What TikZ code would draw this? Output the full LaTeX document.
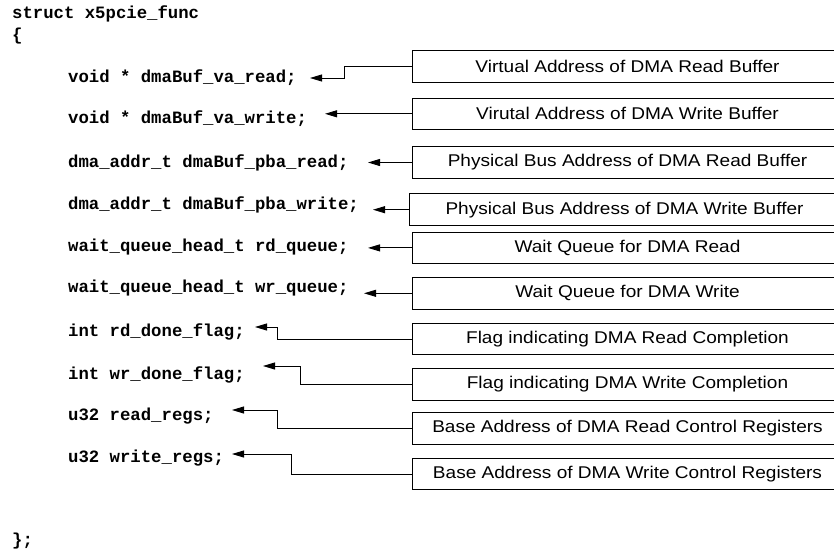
\documentclass[tikz,border=0pt]{standalone}
\usepackage{fontspec}
\setmainfont{Liberation Sans}
\newfontfamily\codefont{Liberation Mono}
\newfontfamily\boxfont[FakeStretch=1.12]{Liberation Sans}
\usetikzlibrary{arrows.meta}
\begin{document}
\begin{tikzpicture}[x=1pt,y=-1pt,
  code/.style={anchor=base west,inner sep=0pt,font=\codefont\bfseries\fontsize{17.3}{20}\selectfont},
  descbox/.style={draw=black,line width=1pt,minimum width=430pt,minimum height=31.5pt,inner sep=0pt,anchor=west,font=\boxfont\fontsize{17}{20}\selectfont},
  conn/.style={draw=black,line width=0.9pt,-{Triangle[length=12pt,width=7pt]}}]
\useasboundingbox[fill=white] (0,0) rectangle (834,552);
% struct text
\node[code] (hdr) at (12,18) {struct x5pcie\_func};
\node[code] (ob) at (12,40) {\{};
\node[code] (cb) at (12,545) {\};};
\node[code] (c1) at (68,82) {void * dmaBuf\_va\_read;};
\node[code] (c2) at (68,123) {void * dmaBuf\_va\_write;};
\node[code] (c3) at (68,167) {dma\_addr\_t dmaBuf\_pba\_read;};
\node[code] (c4) at (68,209) {dma\_addr\_t dmaBuf\_pba\_write;};
\node[code] (c5) at (68,251) {wait\_queue\_head\_t rd\_queue;};
\node[code] (c6) at (68,292) {wait\_queue\_head\_t wr\_queue;};
\node[code] (c7) at (68,336) {int rd\_done\_flag;};
\node[code] (c8) at (68,379) {int wr\_done\_flag;};
\node[code] (c9) at (68,420) {u32 read\_regs;};
\node[code] (c10) at (68,462) {u32 write\_regs;};
% boxes
\node[descbox] (b1) at (412,66.5) {Virtual Address of DMA Read Buffer};
\node[descbox] (b2) at (412,113.8) {Virutal Address of DMA Write Buffer};
\node[descbox] (b3) at (412,162.5) {Physical Bus Address of DMA Read Buffer};
\node[descbox] (b4) at (409,209.7) {Physical Bus Address of DMA Write Buffer};
\node[descbox] (b5) at (412,247.9) {Wait Queue for DMA Read};
\node[descbox] (b6) at (412,293.3) {Wait Queue for DMA Write};
\node[descbox] (b7) at (412,339.2) {Flag indicating DMA Read Completion};
\node[descbox] (b8) at (412,384.5) {Flag indicating DMA Write Completion};
\node[descbox] (b9) at (412,428.5) {Base Address of DMA Read Control Registers};
\node[descbox] (b10) at (412,474.2) {Base Address of DMA Write Control Registers};
% arrow tips and bends
\coordinate (t1) at (310,78);   \coordinate (k1) at (344,78);
\coordinate (t2) at (325,113.8);
\coordinate (t3) at (368,162.5);
\coordinate (t4) at (373,209.7);
\coordinate (t5) at (368,247.9);
\coordinate (t6) at (364,293.3);
\coordinate (t7) at (255,327);  \coordinate (k7) at (277,327);
\coordinate (t8) at (263,366);  \coordinate (k8) at (300,366);
\coordinate (t9) at (232,410);  \coordinate (k9) at (277,410);
\coordinate (t10) at (232,454); \coordinate (k10) at (291,454);
% connectors
\draw[conn] (b1.west) -| (k1) -- (t1);
\draw[conn] (b2.west) -- (t2);
\draw[conn] (b3.west) -- (t3);
\draw[conn] (b4.west) -- (t4);
\draw[conn] (b5.west) -- (t5);
\draw[conn] (b6.west) -- (t6);
\draw[conn] (b7.west) -| (k7) -- (t7);
\draw[conn] (b8.west) -| (k8) -- (t8);
\draw[conn] (b9.west) -| (k9) -- (t9);
\draw[conn] (b10.west) -| (k10) -- (t10);
\end{tikzpicture}
\end{document}
